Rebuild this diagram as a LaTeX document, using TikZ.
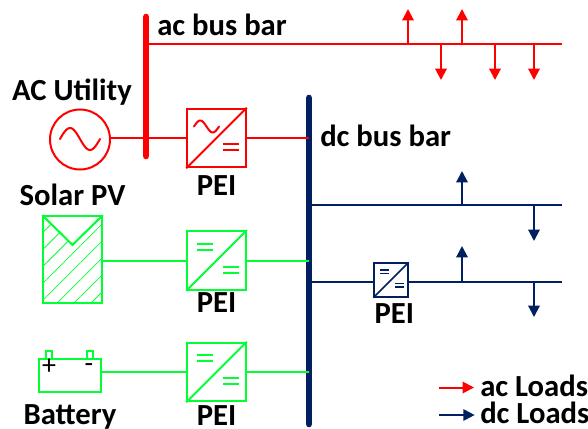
\documentclass[tikz,border=0pt]{standalone}
\usepackage{fontspec}
\setmainfont{Carlito}
\definecolor{busred}{HTML}{FF0000}
\definecolor{srcgreen}{HTML}{00FF33}
\definecolor{busnavy}{HTML}{002060}
\usetikzlibrary{arrows.meta,positioning,calc,patterns.meta}
% converter symbol: box diagonal, then two signs in local pixel units
\newcommand{\peieq}[2]{\draw (#1,#2-3) -- ++(15.5,0) (#1,#2+3) -- ++(15.5,0);}
\newcommand{\peisym}[3]{%
  \draw[#2] (#1.south west) -- (#1.north east);
  \begin{scope}[#2,shift={(#1.center)},scale=#3]
  \peieq{6.5}{9}
  \end{scope}}

\begin{document}
\begin{tikzpicture}[
  x=0.75pt,y=-0.75pt,
  font=\fontsize{23}{25}\selectfont\bfseries,
  pei/.style={draw,rectangle,line width=1.5pt,minimum size=44pt,inner sep=0pt},
  smallpei/.style={pei,minimum size=25pt},
  wire/.style={line width=1.5pt},
  bus/.style={line width=5pt,line cap=round},
  ld/.style={wire,-{Triangle[length=8.5pt,width=8.5pt]}},
  lbl/.style={inner sep=0pt,text=black}]
\useasboundingbox (0,0) rectangle (588,428);
% buses
\coordinate (actop) at (146,17);
\coordinate (acbot) at (146,156);
\coordinate (dctop) at (309,98);
\coordinate (dcbot) at (309,424);
\coordinate (acjoin) at (146,44);
\coordinate (acend) at (562,44);
\draw[bus,busred] (actop) -- (acbot);
\draw[bus,busnavy] (dctop) -- (dcbot);
\draw[wire,busred] (acjoin) -- (acend);
\node[lbl,anchor=base west] (aclabel) at (157,36) {ac bus bar};
\node[lbl,anchor=base west] (dclabel) at (320,146) {dc bus bar};
% ac side
\node[draw=busred,circle,line width=1.5pt,minimum size=45pt,inner sep=0pt] (grid) at (80,139.5) {};
\node[lbl,above=2pt of grid,xshift=-6pt] (gridlabel) {AC Utility};
\node[pei,draw=busred] (pei1) at (216.5,138) {};
\node[lbl,below=5pt of pei1] (pei1label) {PEI};
\coordinate (busa) at (309,138);
\draw[wire,busred] (grid.east |- pei1) -- (pei1);
\draw[wire,busred] (pei1) -- (busa);
\draw[wire,busred,line cap=round,domain=0:360,samples=40,smooth] plot ({60+\x/9},{139-11*sin(\x)});
\peisym{pei1}{wire,busred}{1}
\draw[wire,busred,line cap=round,domain=0:360,samples=30,smooth] plot ({194+\x/14.4},{126.5-6*sin(\x)});
% solar
\node[draw=srcgreen,rectangle,line width=1.5pt,minimum width=44pt,minimum height=65pt,inner sep=0pt] (solar) at (72.5,259.5) {};
\coordinate (solartip) at ($(solar.north)!0.335!(solar.south)$);
\fill[pattern={Lines[angle=45,distance=9pt,line width=0.6pt]},pattern color=srcgreen]
  (solar.north west) -- (solartip) -- (solar.north east) -- (solar.south east) -- (solar.south west) -- cycle;
\draw[wire,srcgreen] (solar.north west) -- (solartip) -- (solar.north east);
\node[lbl,above=7pt of solar] (solarlabel) {Solar PV};
\node[pei,draw=srcgreen] (pei2) at (216.5,260.5) {};
\node[lbl,below=1.5pt of pei2] (pei2label) {PEI};
\coordinate (busb) at (309,260.5);
\draw[wire,srcgreen] (solar.east |- pei2) -- (pei2);
\draw[wire,srcgreen] (pei2) -- (busb);
\peisym{pei2}{wire,srcgreen}{1}
\begin{scope}[wire,srcgreen,shift={(pei2.center)}] \peieq{-19.5}{-13.5} \end{scope}
% battery
\node[draw=srcgreen,rectangle,line width=1.5pt,minimum width=47pt,minimum height=24.5pt,inner sep=0pt] (batt) at (70,375.5) {};
\draw[wire,srcgreen] (46,359) rectangle (52,351);
\draw[wire,srcgreen] (87,359) rectangle (92.5,351);
\node[lbl,font=\fontsize{21}{23}\selectfont] (plus) at (49,367) {+};
\node[lbl,font=\fontsize{21}{23}\selectfont] (minus) at (89,368) {-};
\node[lbl,below=9pt of batt] (battlabel) {Battery};
\node[pei,draw=srcgreen] (pei3) at (216.5,372) {};
\node[lbl,below=2.5pt of pei3] (pei3label) {PEI};
\coordinate (busc) at (309,372);
\draw[wire,srcgreen] (batt.east |- pei3) -- (pei3);
\draw[wire,srcgreen] (pei3) -- (busc);
\peisym{pei3}{wire,srcgreen}{1}
\begin{scope}[wire,srcgreen,shift={(pei3.center)}] \peieq{-19.5}{-14} \end{scope}
% dc feeders
\coordinate (dca) at (309,205);
\coordinate (dcaend) at (562,205);
\coordinate (dcb) at (309,282);
\coordinate (dcbend) at (562,282);
\draw[wire,busnavy] (dca) -- (dcaend);
\node[pei,smallpei,draw=busnavy] (pei4) at (391,280) {};
\node[lbl,below=4pt of pei4,xshift=2.5pt] (pei4label) {PEI};
\draw[wire,busnavy] (dcb) -- (pei4.west |- dcb);
\draw[wire,busnavy] (pei4.east |- dcb) -- (dcbend);
\peisym{pei4}{line width=1.2pt,busnavy}{0.58}
\begin{scope}[line width=1.2pt,busnavy,shift={(pei4.center)},scale=0.58] \peieq{-19.5}{-14} \end{scope}
% loads
\foreach \lx in {408,462}
  \draw[ld,busred] (\lx,44) -- (\lx,9);
\foreach \lx in {441,495,534}
  \draw[ld,busred] (\lx,44) -- (\lx,80);
\draw[ld,busnavy] (462,205) -- (462,171);
\draw[ld,busnavy] (534,205) -- (534,241);
\draw[ld,busnavy] (462,282) -- (462,246);
\draw[ld,busnavy] (534,282) -- (534,317);
% legend
\node[lbl,anchor=base west] (acload) at (480,396) {ac Loads};
\node[lbl,anchor=base west] (dcload) at (480,423.5) {dc Loads};
\coordinate (acleg) at (439,387.5);
\coordinate (dcleg) at (439,415);
\draw[ld,busred,shorten >=4.5pt] (acleg) -- (acleg -| acload.west);
\draw[ld,busnavy,shorten >=4pt] (dcleg) -- (dcleg -| dcload.west);
\end{tikzpicture}
\end{document}
